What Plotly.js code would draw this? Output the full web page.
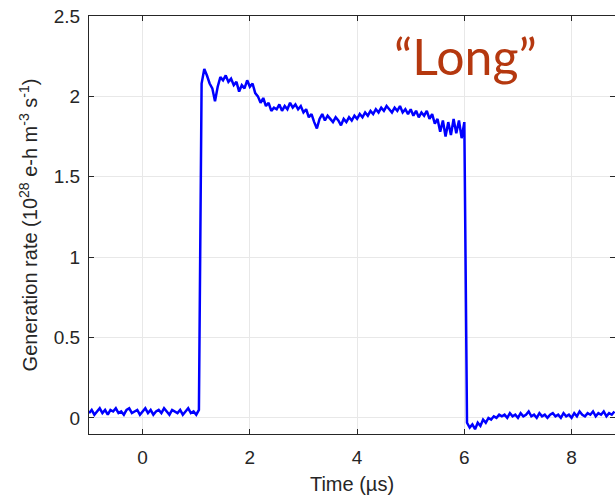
<!DOCTYPE html>
<html>
<head>
<meta charset="utf-8">
<script src="https://cdn.plot.ly/plotly-3.0.1.min.js"></script>
<style>html,body{margin:0;padding:0;background:#fff;}#chart{width:615px;height:501px;}</style>
</head>
<body>
<div id="chart"></div>
<script>
// Time axis: first sample and sample spacing (µs)
const timeStart = -1.0;
const timeStep = 0.05;

// Generation rate (10^28 e-h m^-3 s^-1), one value per sample
const rateBefore = [
  0.03,0.05,0.02,0.04,0.06,0.03,0.05,0.02,0.05,0.04,
  0.06,0.03,0.04,0.02,0.05,0.06,0.03,0.04,0.05,0.02,
  0.04,0.06,0.03,0.05,0.02,0.04,0.05,0.03,0.06,0.04,
  0.02,0.05,0.04,0.03,0.05,0.02,0.04,0.06,0.03,0.04,
  0.02,0.05
];
const ratePulse = [
  2.08,2.17,2.13,2.08,2.05,1.97,2.06,2.12,2.10,2.13,2.09,2.11,2.07,2.09,2.03,2.07,2.05,2.10,
  2.06,2.08,2.02,2.00,1.96,1.99,1.94,1.96,1.91,1.93,1.92,1.95,1.91,1.94,1.92,1.96,1.93,1.95,1.92,1.94,
  1.90,1.92,1.87,1.89,1.84,1.80,1.86,1.89,1.85,1.88,1.86,1.84,1.87,1.85,1.82,1.86,1.84,1.87,1.85,1.88,
  1.86,1.89,1.87,1.90,1.88,1.91,1.89,1.92,1.90,1.93,1.91,1.94,1.92,1.90,1.93,1.91,1.94,1.90,1.92,1.89,
  1.92,1.88,1.91,1.87,1.90,1.88,1.91,1.86,1.89,1.83,1.86,1.78,1.85,1.75,1.84,1.76,1.86,1.77,1.85,1.74,
  1.84
];
const rateAfter = [
  -0.03,-0.06,-0.04,-0.07,-0.03,-0.05,-0.01,-0.03,0.00,-0.01,0.01,0.00,0.02,0.01,0.02,0.00,0.03,0.01,0.02,
  0.00,0.03,0.01,0.02,0.04,0.01,0.02,0.00,0.03,0.01,0.02,0.00,0.02,0.03,0.01,0.02,0.00,0.03,0.01,0.02,
  0.00,0.03,0.01,0.04,0.02,0.01,0.03,0.02,0.04,0.01,0.03,0.02,0.04,0.01,0.03,0.02,0.04
];
const rate = rateBefore.concat(ratePulse, rateAfter);

const xTickVals = [0, 2, 4, 6, 8];
const xTickText = ['0', '2', '4', '6', '8'];
const yTickVals = [0, 0.5, 1, 1.5, 2, 2.5];
const yTickText = ['0', '0.5', '1', '1.5', '2', '2.5'];

const axisColor = '#262626';
const gridColor = '#e8e8e8';
const tickFont = {family: '"Liberation Sans", Arial, sans-serif', size: 19, color: axisColor};
const titleFont = {family: '"Liberation Sans", Arial, sans-serif', size: 20, color: axisColor};

const trace = {
  type: 'scatter',
  mode: 'lines',
  x0: timeStart,
  dx: timeStep,
  y: rate,
  line: {color: '#0000ff', width: 2.5},
  hoverinfo: 'skip'
};

const layout = {
  width: 615,
  height: 501,
  margin: {l: 89, r: 0, t: 16, b: 67},
  paper_bgcolor: '#ffffff',
  plot_bgcolor: '#ffffff',
  showlegend: false,
  xaxis: {
    range: [-1, 8.81],
    tickvals: xTickVals,
    ticktext: xTickText,
    showgrid: true,
    gridcolor: gridColor,
    gridwidth: 1,
    zeroline: false,
    showline: true,
    linecolor: axisColor,
    linewidth: 1,
    mirror: 'ticks',
    ticks: 'inside',
    ticklen: 5,
    tickcolor: axisColor,
    tickfont: tickFont,
    ticklabelstandoff: 6,
    title: {text: 'Time (µs)', font: titleFont, standoff: 10}
  },
  yaxis: {
    range: [-0.1, 2.5],
    tickvals: yTickVals,
    ticktext: yTickText,
    showgrid: true,
    gridcolor: gridColor,
    gridwidth: 1,
    zeroline: false,
    showline: true,
    linecolor: axisColor,
    linewidth: 1,
    mirror: 'ticks',
    ticks: 'inside',
    ticklen: 5,
    tickcolor: axisColor,
    tickfont: tickFont,
    ticklabelstandoff: 4,
    title: {text: 'Generation rate (10<sup>28</sup> e-h m<sup>-3</sup> s<sup>-1</sup>)', font: titleFont, standoff: 10}
  },
  annotations: [{
    text: '“Long”',
    xref: 'paper', yref: 'paper',
    x: 0.715, y: 0.905,
    xanchor: 'center', yanchor: 'middle',
    showarrow: false,
    font: {family: 'Lato, "Open Sans", sans-serif', size: 50, color: '#b5380f'}
  }]
};

Plotly.newPlot('chart', [trace], layout, {displayModeBar: false, staticPlot: true});
</script>
</body>
</html>
